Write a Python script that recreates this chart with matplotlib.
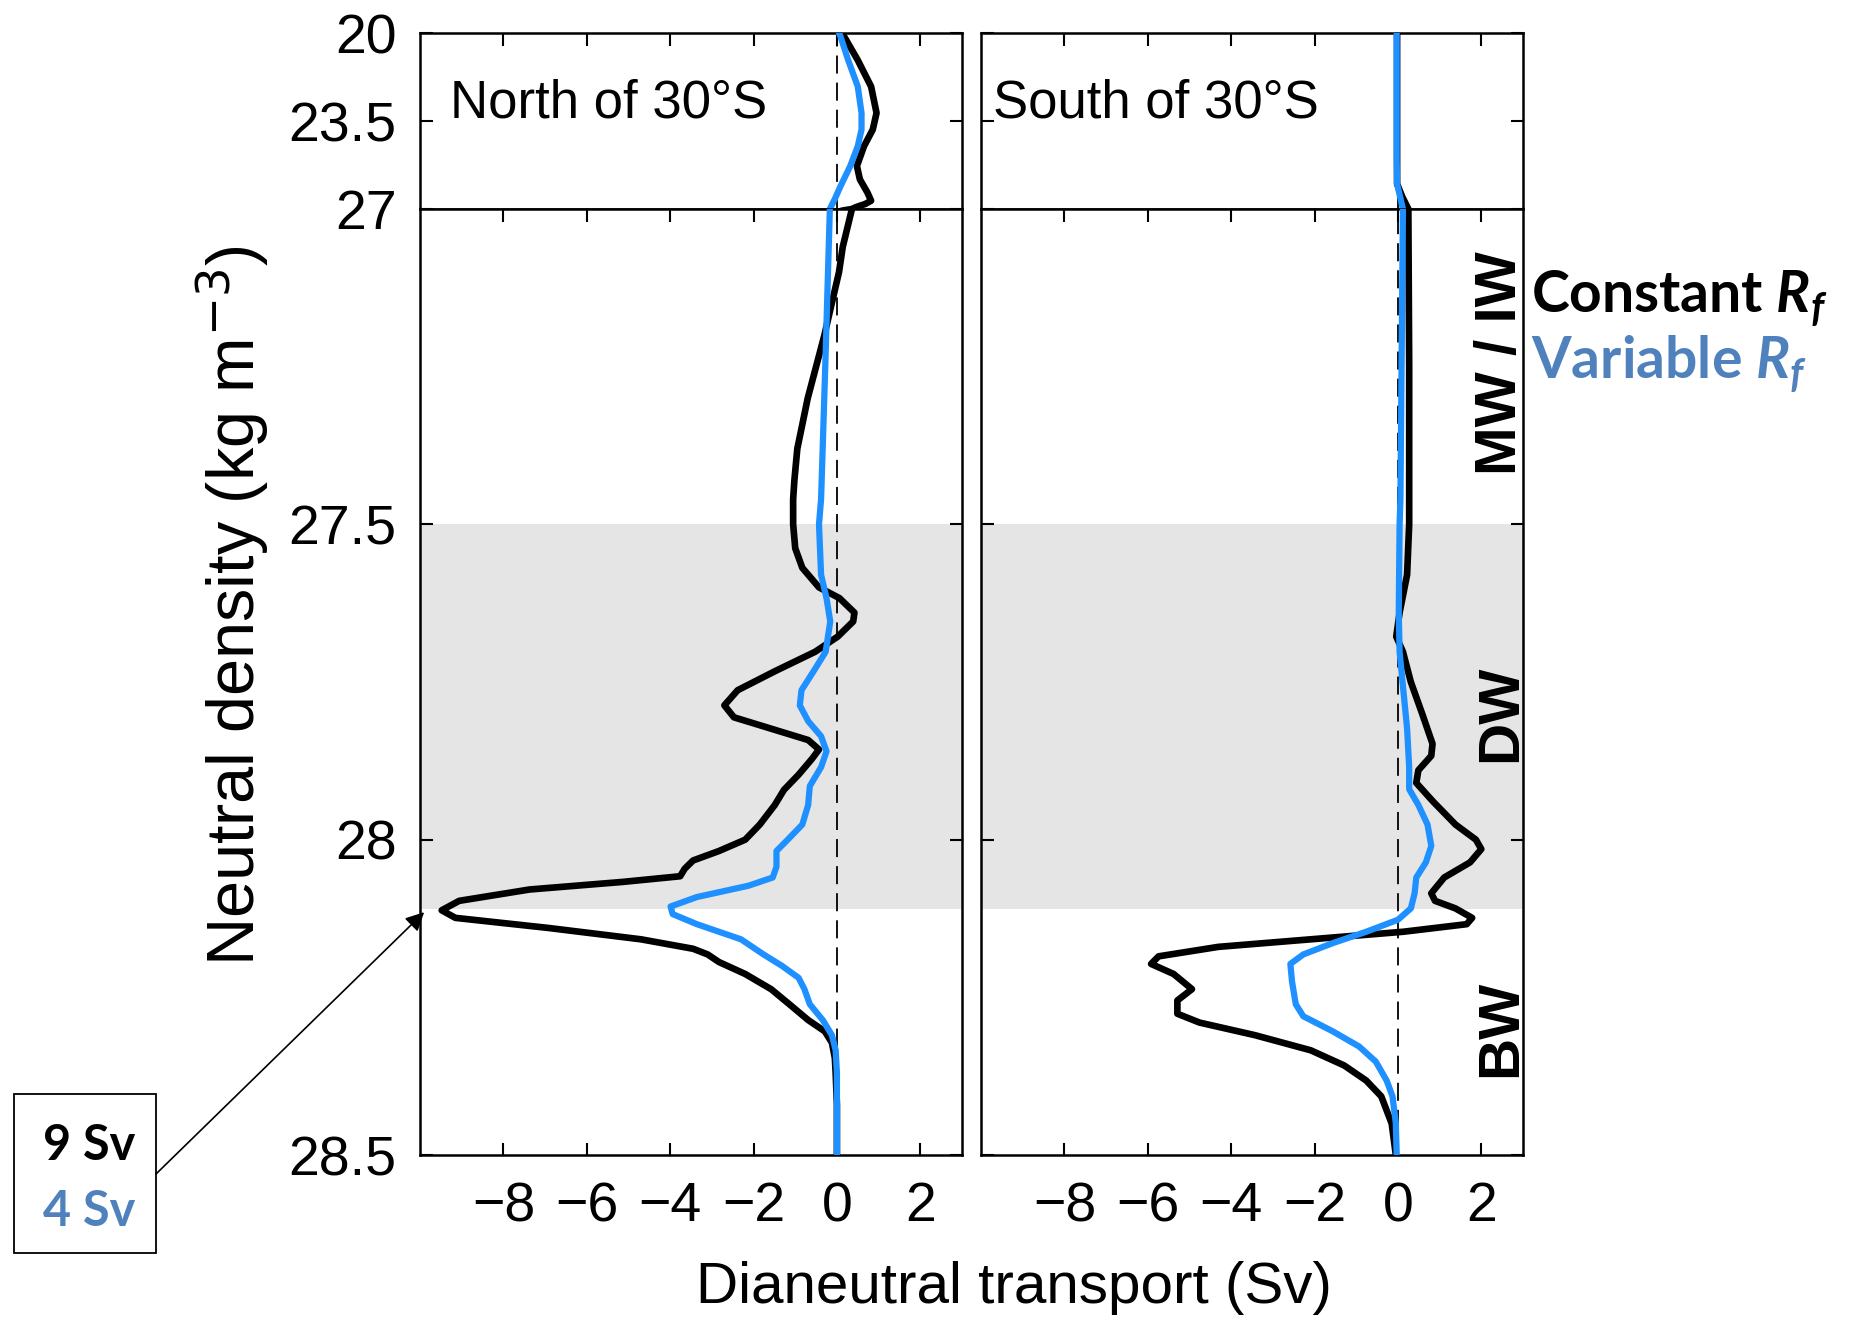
import matplotlib
matplotlib.use("Agg")
import matplotlib.pyplot as plt
from matplotlib.patches import Rectangle

plt.rcParams['font.family'] = ['Liberation Sans', 'DejaVu Sans']
plt.rcParams['mathtext.fontset'] = 'custom'
plt.rcParams['mathtext.it'] = 'Lato:italic:bold'

# neutral density levels (kg m-3) and dianeutral transport (Sv)
north_const_dens = [20.0, 20.16, 21.08, 22.13, 23.18, 23.84, 24.5, 25.29, 25.82, 26.34, 26.67, 26.8,
                    26.93, 27.0, 27.06, 27.1, 27.2, 27.3, 27.38, 27.43, 27.46, 27.5, 27.538, 27.569,
                    27.6, 27.617, 27.64, 27.654, 27.678, 27.702, 27.733, 27.763, 27.787, 27.806,
                    27.824, 27.842, 27.857, 27.872, 27.897, 27.921, 27.945, 27.976, 28.0, 28.018,
                    28.033, 28.046, 28.058, 28.067, 28.079, 28.097, 28.112, 28.124, 28.14, 28.158,
                    28.173, 28.182, 28.194, 28.213, 28.237, 28.261, 28.286, 28.304, 28.322, 28.346,
                    28.37, 28.42, 28.5]
north_const = [0.1, 0.18, 0.5, 0.82, 0.95, 0.86, 0.65, 0.48, 0.55, 0.73, 0.82, 0.68,
               0.45, 0.36, 0.14, 0.05, -0.3, -0.7, -0.95, -1.02, -1.05, -1.05, -1.0, -0.83,
               -0.43, 0.06, 0.42, 0.39, 0.02, -0.52, -1.49, -2.38, -2.7, -2.47,
               -1.58, -0.69, -0.43, -0.6, -0.92, -1.27, -1.49, -1.85, -2.2, -2.83,
               -3.45, -3.65, -3.76, -5.14, -7.37, -9.06, -9.48, -9.15, -6.92, -4.7,
               -3.45, -3.1, -2.83, -2.2, -1.58, -1.14, -0.69, -0.29, -0.12, -0.05,
               -0.03, 0.0, 0.0]

north_var_dens = [20.0, 20.16, 21.08, 22.13, 23.18, 23.84, 24.5, 25.29, 26.08, 26.6, 27.0, 27.25,
                  27.46, 27.5, 27.58, 27.617, 27.654, 27.702, 27.733, 27.763, 27.787, 27.812,
                  27.836, 27.86, 27.885, 27.915, 27.945, 27.976, 28.0, 28.018, 28.043, 28.06,
                  28.073, 28.091, 28.106, 28.118, 28.134, 28.158, 28.182, 28.2, 28.219, 28.237,
                  28.261, 28.286, 28.31, 28.334, 28.37, 28.5]
north_var = [0.05, 0.09, 0.27, 0.5, 0.59, 0.59, 0.5, 0.32, 0.09, -0.05, -0.17, -0.28,
             -0.38, -0.43, -0.38, -0.25, -0.16, -0.27, -0.56, -0.85, -0.89, -0.69,
             -0.38, -0.25, -0.38, -0.65, -0.69, -0.83, -1.18, -1.45, -1.45, -1.54,
             -2.12, -3.36, -3.99, -3.94, -3.36, -2.3, -1.76, -1.32, -0.92, -0.78,
             -0.65, -0.34, -0.12, -0.03, 0.0, 0.0]

south_const_dens = [20.0, 26.0, 26.5, 27.0, 27.25, 27.46, 27.5, 27.58, 27.64, 27.678, 27.702, 27.75,
                    27.8, 27.848, 27.867, 27.89, 27.91, 27.94, 27.976, 28.0, 28.015, 28.036, 28.06,
                    28.085, 28.097, 28.109, 28.124, 28.134, 28.146, 28.158, 28.17, 28.185, 28.197,
                    28.213, 28.237, 28.255, 28.276, 28.29, 28.31, 28.334, 28.358, 28.382, 28.407,
                    28.45, 28.5]
south_const = [-0.02, -0.02, 0.1, 0.25, 0.27, 0.27, 0.27, 0.22, 0.04, -0.04, 0.12, 0.31,
               0.58, 0.83, 0.8, 0.49, 0.44, 0.85, 1.38, 1.87, 2.0, 1.73, 1.11,
               0.8, 0.89, 1.38, 1.78, 1.65, 0.13, -2.09, -4.31, -5.74, -5.92,
               -5.38, -4.94, -5.29, -5.29, -4.76, -3.43, -2.09, -1.29, -0.76, -0.4,
               -0.15, -0.05]

south_var_dens = [20.0, 25.0, 26.0, 27.0, 27.46, 27.5, 27.64, 27.702, 27.763, 27.824, 27.885, 27.92,
                  27.945, 27.976, 28.01, 28.036, 28.06, 28.085, 28.109, 28.127, 28.146, 28.164,
                  28.182, 28.197, 28.225, 28.261, 28.28, 28.304, 28.328, 28.352, 28.382, 28.407,
                  28.45, 28.5]
south_var = [-0.03, -0.03, -0.02, 0.12, 0.06, 0.04, 0.02, 0.04, 0.13, 0.22, 0.27, 0.27,
             0.49, 0.71, 0.8, 0.67, 0.44, 0.4, 0.31, 0.0, -0.76, -1.56,
             -2.27, -2.58, -2.54, -2.45, -2.27, -1.56, -0.93, -0.53, -0.27, -0.13,
             -0.05, -0.03]

panel_titles = ['North of 30\u00b0S', 'South of 30\u00b0S']
xticks = [-8, -6, -4, -2, 0, 2]
top_yticks = [20, 23.5]
top_ylabels = ['20', '23.5']
low_yticks = [27, 27.5, 28, 28.5]
low_ylabels = ['27', '27.5', '28', '28.5']
shade_band = (27.5, 28.11)
water_masses = [('MW / IW', 27.245), ('DW', 27.80), ('BW', 28.30)]

BLUE = '#1e90ff'
LEGEND_BLUE = '#4f81bd'
W, H = 1854, 1320

fig = plt.figure(figsize=(W / 100, H / 100), dpi=100)

lefts = [420 / W, 981 / W]
width = 542 / W
y_break = 1 - 209 / H
y_top = 1 - 33 / H
y_bot = 1 - 1155 / H

curves = [((north_const_dens, north_const), (north_var_dens, north_var)),
          ((south_const_dens, south_const), (south_var_dens, south_var))]

low_axes = []
for i, left in enumerate(lefts):
    ax_t = fig.add_axes([left, y_break, width, y_top - y_break])
    ax_b = fig.add_axes([left, y_bot, width, y_break - y_bot])
    (cd, cv), (vd, vv) = curves[i]
    for ax in (ax_t, ax_b):
        ax.axvline(0, color='k', lw=1.3, ls=(0, (10, 5)), zorder=1)
        ax.plot(cv, cd, color='k', lw=4.8, solid_joinstyle='round', zorder=3)
        ax.plot(vv, vd, color=BLUE, lw=4.5, solid_joinstyle='round', zorder=4)
        ax.set_xlim(-10, 3)
        ax.set_xticks(xticks)
        ax.tick_params(direction='in', length=9, width=1.5, labelsize=40,
                       top=True, right=True)
        ax.tick_params(axis='x', pad=19)
        ax.tick_params(axis='y', pad=17)
        for s in ax.spines.values():
            s.set_linewidth(1.8)
    ax_b.axhspan(*shade_band, color='#e5e5e5', lw=0, zorder=0)
    ax_t.set_ylim(27, 20)
    ax_b.set_ylim(28.5, 27)
    ax_t.set_yticks(top_yticks)
    ax_b.set_yticks(low_yticks)
    ax_t.tick_params(labelbottom=False, bottom=False)
    if i == 0:
        ax_t.set_yticklabels(top_ylabels)
        ax_b.set_yticklabels(low_ylabels)
    else:
        ax_t.set_yticklabels([])
        ax_b.set_yticklabels([])
    ax_t.text(0.055 if i == 0 else 0.022, 0.6, panel_titles[i], transform=ax_t.transAxes,
              fontsize=38, va='center', ha='left')
    low_axes.append(ax_b)

for name, dens in water_masses:
    low_axes[1].text(2.47, dens, name, rotation=90, fontsize=42, fontweight='bold',
                     ha='center', va='center', zorder=5)

fig.text(232 / W, 1 - 606 / H, 'Neutral density (kg m$^{-3}$)', rotation=90,
         fontsize=48, ha='center', va='center')
fig.text(1014 / W, 1 - 1288 / H, 'Dianeutral transport (Sv)', fontsize=42,
         ha='center', va='center')

# legend text
fig.text(1531 / W, 1 - 299 / H, 'Constant $\\mathit{R_f}$', fontsize=41, fontweight='bold',
         family=['Lato', 'DejaVu Sans'], color='k', ha='left', va='center')
fig.text(1531 / W, 1 - 364 / H, 'Variable $\\mathit{R_f}$', fontsize=41, fontweight='bold',
         family=['Lato', 'DejaVu Sans'], color=LEGEND_BLUE, ha='left', va='center')

# peak box with arrow
fig.add_artist(Rectangle((14 / W, 1 - 1253 / H), 142 / W, 159 / H, transform=fig.transFigure,
                         fill=False, ec='k', lw=1.3))
fig.text(89 / W, 1 - 1145 / H, '9 Sv', fontsize=35, fontweight='bold',
         family=['Lato', 'DejaVu Sans'], ha='center', va='center', color='k')
fig.text(89 / W, 1 - 1212 / H, '4 Sv', fontsize=35, fontweight='bold',
         family=['Lato', 'DejaVu Sans'], ha='center', va='center', color=LEGEND_BLUE)
low_axes[0].annotate('', xy=(-9.9, 28.115), xycoords='data',
                     xytext=(156 / W, 1 - 1174 / H), textcoords='figure fraction',
                     arrowprops=dict(arrowstyle='-|>', lw=1.2, color='k', mutation_scale=28,
                                     shrinkA=0, shrinkB=0),
                     annotation_clip=False)

fig.savefig('out.png', dpi=100)
